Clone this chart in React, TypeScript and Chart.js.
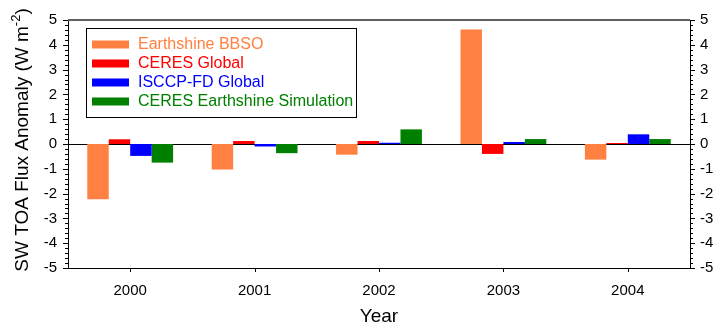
import React, { useEffect, useRef } from 'react';
import { Chart, registerables } from 'chart.js';

Chart.register(...registerables);

const years = ['2000', '2001', '2002', '2003', '2004'];
const earthshineBBSO = [-2.23, -1.03, -0.43, 4.62, -0.63];
const ceresGlobal = [0.19, 0.12, 0.12, -0.4, 0.04];
const isccpGlobal = [-0.48, -0.1, 0.05, 0.08, 0.39];
const ceresSimulation = [-0.75, -0.37, 0.59, 0.2, 0.2];
const seriesLabels = ['Earthshine BBSO', 'CERES Global', 'ISCCP-FD Global', 'CERES Earthshine Simulation'];
const seriesColors = ['#FF8040', '#FF0000', '#0000FF', '#008000'];
const yMin = -5;
const yMax = 5;
const yTitleMain = 'SW TOA Flux Anomaly (W m';
const yTitleSup = '-2';
const yTitleEnd = ')';
const xTitle = 'Year';

const FONT = '"Liberation Sans", Arial, sans-serif';

const decorPlugin = {
  id: 'decor',
  beforeDatasetsDraw(chart: any) {
    const { ctx, chartArea } = chart;
    const y = chart.scales.y;
    const y0 = y.getPixelForValue(0);
    ctx.save();
    ctx.strokeStyle = '#000';
    ctx.lineWidth = 1;
    ctx.beginPath();
    ctx.moveTo(chartArea.left, Math.round(y0) + 0.5);
    ctx.lineTo(chartArea.right, Math.round(y0) + 0.5);
    ctx.stroke();
    ctx.restore();
  },
  afterDraw(chart: any) {
    const { ctx, chartArea } = chart;
    const { left, right, top, bottom } = chartArea;
    const ys = chart.scales.y;
    const xs = chart.scales.x;
    ctx.save();
    // top border
    ctx.strokeStyle = '#606060';
    ctx.lineWidth = 2;
    ctx.beginPath();
    ctx.moveTo(left, top);
    ctx.lineTo(right, top);
    ctx.stroke();
    // y ticks major + minor, outward, both sides
    ctx.strokeStyle = '#000';
    ctx.lineWidth = 1;
    ctx.beginPath();
    for (let i = yMin * 5; i <= yMax * 5; i++) {
      const v = i / 5;
      const py = Math.round(ys.getPixelForValue(v)) + 0.5;
      const len = i % 5 === 0 ? 5 : 3;
      ctx.moveTo(left - len, py);
      ctx.lineTo(left, py);
      ctx.moveTo(right, py);
      ctx.lineTo(right + len, py);
    }
    // x category ticks
    for (let i = 0; i < years.length; i++) {
      const px = Math.round(xs.getPixelForValue(i)) + 0.5;
      ctx.moveTo(px, bottom);
      ctx.lineTo(px, bottom + 4);
    }
    ctx.stroke();

    // y title with superscript
    ctx.fillStyle = '#000';
    ctx.translate(28, 140);
    ctx.rotate(-Math.PI / 2);
    ctx.textBaseline = 'alphabetic';
    ctx.textAlign = 'left';
    const mainFont = `19px ${FONT}`;
    const supFont = `13px ${FONT}`;
    ctx.font = mainFont;
    const w1 = ctx.measureText(yTitleMain).width;
    const w3 = ctx.measureText(yTitleEnd).width;
    ctx.font = supFont;
    const w2 = ctx.measureText(yTitleSup).width;
    const total = w1 + w2 + w3;
    let x0 = -total / 2;
    ctx.font = mainFont;
    ctx.fillText(yTitleMain, x0, 0);
    x0 += w1;
    ctx.font = supFont;
    ctx.fillText(yTitleSup, x0, -8);
    x0 += w2;
    ctx.font = mainFont;
    ctx.fillText(yTitleEnd, x0, 0);
    ctx.restore();

    // legend
    ctx.save();
    const bx = 86, by = 28, bw = 270, bh = 89;
    ctx.fillStyle = '#fff';
    ctx.fillRect(bx, by, bw, bh);
    ctx.strokeStyle = '#000';
    ctx.lineWidth = 1;
    ctx.strokeRect(bx + 0.5, by + 0.5, bw, bh);
    ctx.font = `16px ${FONT}`;
    ctx.textBaseline = 'middle';
    ctx.textAlign = 'left';
    chart.data.datasets.forEach((ds: any, i: number) => {
      const cy = 44.5 + i * 19;
      ctx.fillStyle = ds.backgroundColor;
      ctx.fillRect(92, cy - 4, 37, 8);
      ctx.fillText(ds.label, 138, cy + 0.5);
    });
    ctx.restore();
  },
};

export default function App() {
  const ref = useRef<HTMLCanvasElement | null>(null);
  useEffect(() => {
    document.body.style.margin = '0';
    if (!ref.current) return;
    const series = [earthshineBBSO, ceresGlobal, isccpGlobal, ceresSimulation];
    const tickFont = { family: FONT, size: 15 };
    const yCommon = {
      type: 'linear' as const,
      min: yMin,
      max: yMax,
      grid: { display: false, drawTicks: false, drawOnChartArea: false },
      border: { display: true, color: '#000', width: 1 },
      ticks: { stepSize: 1, font: tickFont, color: '#000', padding: 11 },
    };
    const chart = new Chart(ref.current, {
      type: 'bar',
      data: {
        labels: years,
        datasets: series.map((d, i) => ({
          label: seriesLabels[i],
          data: d,
          backgroundColor: seriesColors[i],
          borderWidth: 0,
          categoryPercentage: 0.69,
          barPercentage: 1.0,
          yAxisID: 'y',
        })),
      },
      options: {
        animation: false,
        responsive: false,
        maintainAspectRatio: false,
        layout: { padding: { top: 20, left: 0, right: 0, bottom: 0 } },
        plugins: { legend: { display: false }, tooltip: { enabled: false } },
        scales: {
          x: {
            grid: { display: false, drawTicks: false, drawOnChartArea: false },
            border: { display: true, color: '#000', width: 1 },
            ticks: { font: tickFont, color: '#000', padding: 14 },
            title: { display: true, text: xTitle, font: { family: FONT, size: 19 }, color: '#000', padding: { top: 0, bottom: 1 } },
            afterFit: (s: any) => { s.height = 61; },
          },
          y: {
            ...yCommon,
            position: 'left',
            afterFit: (s: any) => { s.width = 68; },
          },
          y2: {
            ...yCommon,
            position: 'right',
            ticks: { ...yCommon.ticks, padding: 10 },
            afterFit: (s: any) => { s.width = 26; },
          },
        },
      } as any,
      plugins: [decorPlugin],
    });
    return () => chart.destroy();
  }, []);
  return <canvas ref={ref} width={716} height={329} style={{ display: 'block' }} />;
}
